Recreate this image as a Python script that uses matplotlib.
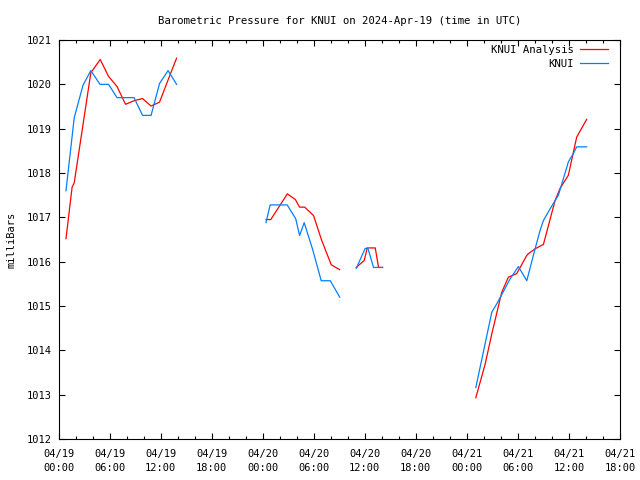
import matplotlib
matplotlib.use("Agg")
import matplotlib.pyplot as plt
import numpy as np

# hours since 2024-04-19 00:00 UTC ; pressure in mb
knui_hr = [0.88, 1.85, 2.88, 3.8, 4.88, 5.88, 6.88, 7.88, 8.88, 9.88, 10.88, 11.88, 12.88, 13.88,
           np.nan,
           24.39, 24.88, 25.88, 26.88, 27.88, 28.34, 28.88, 29.88, 30.88, 31.95, 33.05,
           np.nan,
           35.0, 36.05, 36.37, 37.03, 38.09,
           np.nan,
           49.05, 50.93, 51.52, 53.08, 54.06, 55.04, 56.02, 56.6, 57.0, 57.78, 58.76, 59.93, 60.52, 60.91, 62.08]
knui_mb = [1017.6, 1019.25, 1019.98, 1020.31, 1020.0, 1020.0, 1019.7, 1019.7, 1019.7, 1019.3, 1019.3, 1020.02, 1020.31, 1020.0,
           np.nan,
           1016.88, 1017.28, 1017.28, 1017.28, 1016.97, 1016.59, 1016.88, 1016.27, 1015.57, 1015.57, 1015.2,
           np.nan,
           1015.85, 1016.3, 1016.3, 1015.87, 1015.87,
           np.nan,
           1013.16, 1014.86, 1015.05, 1015.61, 1015.89, 1015.57, 1016.29, 1016.7, 1016.93, 1017.19, 1017.5, 1018.25, 1018.44, 1018.59, 1018.59]

anal_hr = [0.88, 1.6, 1.85, 3.8, 4.9, 5.88, 6.88, 7.88, 8.88, 9.88, 10.88, 11.88, 12.88, 13.88,
           np.nan,
           24.39, 24.95, 26.9, 27.85, 28.34, 28.93, 29.98, 30.9, 32.06, 33.05,
           np.nan,
           35.0, 35.94, 36.29, 37.23, 37.62, 38.09,
           np.nan,
           49.05, 50.15, 50.93, 52.1, 52.88, 53.86, 55.04, 55.23, 56.02, 57.0, 58.37, 58.95, 59.93, 60.91, 62.08]
anal_mb = [1016.52, 1017.68, 1017.78, 1020.26, 1020.56, 1020.18, 1019.95, 1019.55, 1019.63, 1019.68, 1019.51, 1019.6, 1020.1, 1020.59,
           np.nan,
           1016.95, 1016.95, 1017.53, 1017.4, 1017.23, 1017.23, 1017.04, 1016.5, 1015.93, 1015.82,
           np.nan,
           1015.87, 1016.03, 1016.31, 1016.31, 1015.87, 1015.87,
           np.nan,
           1012.93, 1013.69, 1014.37, 1015.31, 1015.65, 1015.73, 1016.14, 1016.18, 1016.29, 1016.39, 1017.38, 1017.65, 1017.95, 1018.81, 1019.21]

xtick_hr = [0, 6, 12, 18, 24, 30, 36, 42, 48, 54, 60, 66]
xtick_lbl = ["04/19\n00:00", "04/19\n06:00", "04/19\n12:00", "04/19\n18:00",
             "04/20\n00:00", "04/20\n06:00", "04/20\n12:00", "04/20\n18:00",
             "04/21\n00:00", "04/21\n06:00", "04/21\n12:00", "04/21\n18:00"]

plt.rcParams['font.family'] = ['DejaVu Sans Mono']
plt.rcParams['font.size'] = 7.5

fig = plt.figure(figsize=(6.4, 4.8), dpi=100)
ax = fig.add_axes([58.5/640, 41/480, (620-58.5)/640, (439-40)/480])

ax.plot(anal_hr, anal_mb, color='#ff0000', lw=0.9, label='KNUI Analysis')
ax.plot(knui_hr, knui_mb, color='#0080ff', lw=0.9, label='KNUI')

ax.set_xlim(0, 66)
ax.set_ylim(1012, 1021)
ax.set_xticks(xtick_hr)
ax.set_xticklabels(xtick_lbl, linespacing=1.4)
ax.set_xticks(np.arange(0, 67, 2), minor=True)
ax.set_yticks(np.arange(1012, 1022, 1))
ax.tick_params(which='both', direction='in', top=True, right=True, width=0.8, color='black')
ax.tick_params(which='major', length=4)
ax.tick_params(which='minor', length=2.5)
ax.tick_params(axis='x', pad=7.5)
ax.tick_params(axis='y', pad=5)
for s in ax.spines.values():
    s.set_linewidth(0.8)

ax.set_title("Barometric Pressure for KNUI on 2024-Apr-19 (time in UTC)", fontsize=7.7, pad=11.5)
ax.set_ylabel("milliBars", labelpad=7)

ax.legend(loc='upper right', bbox_to_anchor=(0.986, 0.999), frameon=False, markerfirst=False,
          handlelength=2.6, handletextpad=0.6, labelspacing=0.4, borderaxespad=0.0, fontsize=7.7)

fig.savefig("out.png", dpi=100)
